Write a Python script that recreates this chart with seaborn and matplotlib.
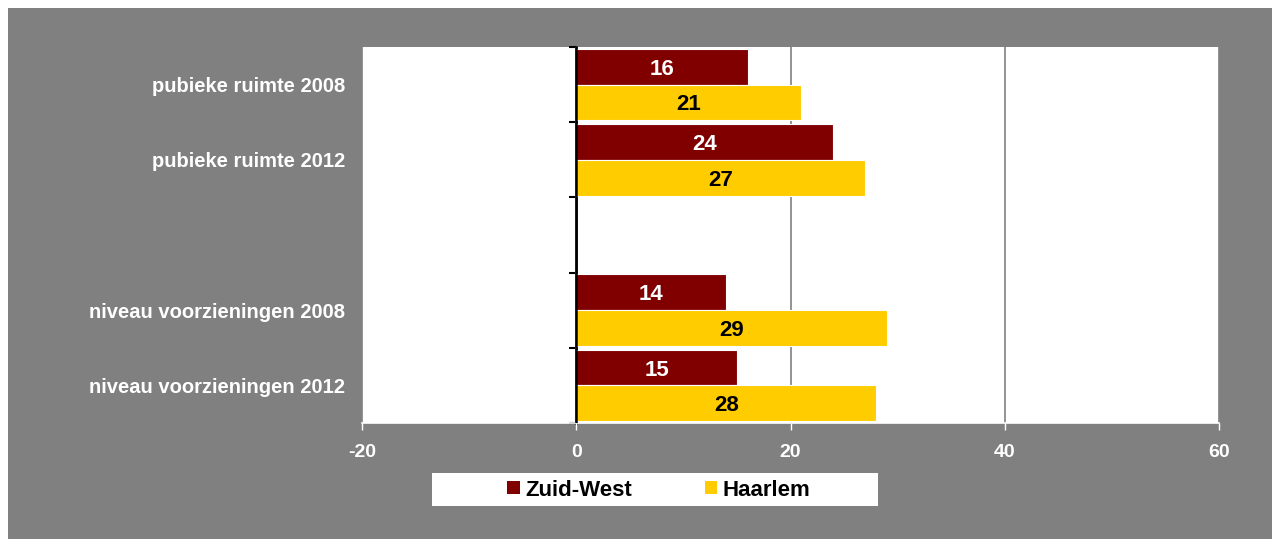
import matplotlib
matplotlib.use("Agg")
import matplotlib.pyplot as plt
import matplotlib.patches as mpatches
import seaborn as sns
import pandas as pd

categories = ["pubieke ruimte 2008", "pubieke ruimte 2012", " ",
              "niveau voorzieningen 2008", "niveau voorzieningen 2012"]
series = ["Zuid-West", "Haarlem"]
zuid_west = [16, 24, None, 14, 15]
haarlem = [21, 27, None, 29, 28]
x_ticks = [-20, 0, 20, 40, 60]
colors = ["#800000", "#FFCC00"]
label_colors = ["white", "black"]

rows = []
for c, zw, ha in zip(categories, zuid_west, haarlem):
    if zw is not None:
        rows.append({"cat": c, "serie": series[0], "val": zw})
    if ha is not None:
        rows.append({"cat": c, "serie": series[1], "val": ha})
df = pd.DataFrame(rows)

sns.set_theme(style="white")
plt.rcParams["font.family"] = ["Liberation Sans", "DejaVu Sans"]
plt.rcParams["font.weight"] = "bold"

fig = plt.figure(figsize=(12.72, 5.39), dpi=100, facecolor="white")
fig.patches.append(mpatches.Rectangle((8 / 1272, 0), 1 - 8 / 1272, 1 - 8 / 539,
                                      transform=fig.transFigure, facecolor="#808080",
                                      edgecolor="none", zorder=-10))
ax = fig.add_axes([362 / 1272, 1 - 423 / 539, (1219 - 362) / 1272, (423 - 47) / 539])
ax.set_facecolor("white")

sns.barplot(data=df, y="cat", x="val", hue="serie", order=categories,
            hue_order=series, palette=colors, orient="h", width=0.95,
            edgecolor="white", linewidth=0.8, saturation=1, ax=ax, legend=False,
            zorder=3)

for cont, lc in zip(ax.containers, label_colors):
    texts = ax.bar_label(cont, labels=[f"{int(v.get_width())}" for v in cont],
                         label_type="center", color=lc, fontsize=16,
                         fontweight="bold", zorder=4)
    for t in texts:
        t.set_va("center_baseline")

ax.set_xlim(x_ticks[0], x_ticks[-1])
ax.set_xticks(x_ticks)
ax.set_xticklabels([str(t) for t in x_ticks], color="white", fontsize=14, fontweight="bold")
ax.xaxis.grid(True, color="#808080", linewidth=1.2, zorder=0)
ax.yaxis.grid(False)
ax.set_axisbelow(True)
ax.tick_params(axis="x", colors="white", length=5, width=1, direction="out", pad=10,
               labelcolor="white", labelsize=14, bottom=True)
ax.tick_params(axis="y", length=0, pad=12, labelcolor="white", labelsize=14.5)
for lbl in ax.get_yticklabels():
    lbl.set_fontweight("bold")
ax.set_xlabel("")
ax.set_ylabel("")
for s in ["top", "right", "left"]:
    ax.spines[s].set_visible(False)
ax.spines["bottom"].set_color("white")
ax.spines["bottom"].set_linewidth(1.2)

# category axis at x = 0
ax.axvline(0, color="black", linewidth=1.8, zorder=6)
sec = ax.secondary_yaxis((0 - x_ticks[0]) / (x_ticks[-1] - x_ticks[0]))
n = len(categories)
sec.set_yticks([i - 0.5 for i in range(n + 1)])
sec.set_yticklabels([])
sec.tick_params(axis="y", length=5, width=1.5, colors="black", direction="out")
sec.spines["left"].set_color("black")
sec.spines["left"].set_linewidth(1.8)

# legend
fig.patches.append(mpatches.Rectangle((432 / 1272, 1 - 506 / 539), 446 / 1272, 33 / 539,
                                      transform=fig.transFigure, facecolor="white",
                                      edgecolor="none", zorder=1))
handles = [mpatches.Patch(facecolor=c, edgecolor="none") for c in colors]
leg = fig.legend(handles, series, loc="center", bbox_to_anchor=(659 / 1272, 1 - 490 / 539),
                 ncol=2, frameon=False, handlelength=0.55, handleheight=0.55,
                 handletextpad=0.25, columnspacing=3.3,
                 prop={"weight": "bold", "size": 16})
for t in leg.get_texts():
    t.set_color("black")

fig.savefig("out.png", dpi=100, facecolor=fig.get_facecolor())
